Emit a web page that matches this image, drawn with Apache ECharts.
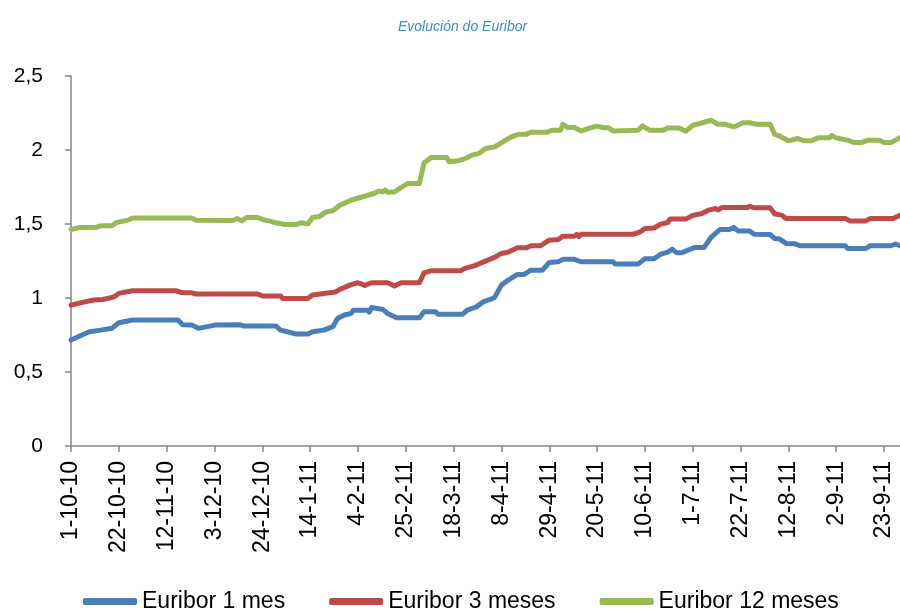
<!DOCTYPE html>
<html>
<head>
<meta charset="utf-8">
<script src="https://cdn.jsdelivr.net/npm/echarts@6/dist/echarts.min.js"></script>
<style>html,body{margin:0;padding:0;background:#fff}#c{width:900px;height:612px}</style>
</head>
<body>
<div id="c"></div>
<script>
// days counted from 1-10-10
const tickLabels = ['1-10-10','22-10-10','12-11-10','3-12-10','24-12-10','14-1-11','4-2-11','25-2-11','18-3-11','8-4-11','29-4-11','20-5-11','10-6-11','1-7-11','22-7-11','12-8-11','2-9-11','23-9-11'];
const tickStepDays = 21;
const lastDay = 364;
const seriesNames = ['Euribor 1 mes','Euribor 3 meses','Euribor 12 meses'];

const euribor1mes = [[0,0.716],[8,0.772],[13,0.783],[18,0.795],[21,0.833],[27,0.851],[47,0.851],[49,0.82],[53,0.817],[56,0.795],[61,0.81],[63,0.817],[74,0.82],[76,0.81],[90,0.81],[92,0.783],[95,0.772],[99,0.756],[104,0.756],[106,0.772],[111,0.783],[115,0.806],[117,0.862],[120,0.885],[123,0.896],[124,0.918],[130,0.918],[131,0.905],[132,0.936],[137,0.922],[139,0.896],[143,0.866],[153,0.866],[155,0.907],[160,0.907],[161,0.891],[172,0.891],[174,0.918],[178,0.94],[181,0.974],[184,0.99],[186,1.004],[189,1.087],[192,1.121],[196,1.159],[199,1.159],[202,1.188],[207,1.188],[210,1.24],[214,1.245],[216,1.261],[221,1.261],[224,1.245],[238,1.245],[239,1.229],[249,1.229],[252,1.265],[256,1.265],[259,1.296],[262,1.31],[264,1.33],[266,1.305],[268,1.305],[271,1.323],[274,1.342],[278,1.342],[281,1.409],[285,1.463],[289,1.463],[291,1.477],[293,1.452],[298,1.452],[300,1.431],[307,1.429],[309,1.402],[311,1.4],[314,1.369],[318,1.366],[320,1.353],[340,1.353],[341,1.335],[349,1.335],[351,1.353],[360,1.353],[362,1.365],[364,1.353]];

const euribor3meses = [[0,0.952],[6,0.974],[10,0.986],[14,0.99],[19,1.008],[21,1.031],[27,1.049],[46,1.049],[49,1.035],[53,1.035],[55,1.027],[82,1.027],[84,1.013],[92,1.013],[93,0.997],[104,0.997],[106,1.02],[116,1.04],[118,1.058],[123,1.09],[126,1.103],[129,1.085],[132,1.103],[139,1.103],[142,1.082],[145,1.103],[153,1.103],[155,1.17],[158,1.184],[171,1.184],[173,1.2],[177,1.217],[183,1.256],[186,1.274],[189,1.301],[192,1.31],[196,1.339],[200,1.339],[202,1.353],[206,1.353],[210,1.391],[214,1.395],[216,1.418],[221,1.418],[222,1.43],[223,1.415],[224,1.431],[247,1.431],[250,1.447],[252,1.47],[256,1.473],[259,1.499],[262,1.51],[263,1.533],[270,1.533],[273,1.558],[277,1.571],[280,1.594],[283,1.605],[284,1.595],[286,1.612],[297,1.612],[298,1.62],[300,1.609],[307,1.609],[309,1.567],[312,1.56],[314,1.537],[340,1.537],[342,1.521],[349,1.521],[351,1.537],[361,1.537],[364,1.56]];

const euribor12meses = [[0,1.463],[4,1.477],[11,1.477],[13,1.488],[18,1.488],[20,1.51],[25,1.526],[27,1.54],[53,1.54],[55,1.526],[71,1.524],[73,1.537],[75,1.521],[77,1.544],[82,1.544],[85,1.526],[87,1.521],[90,1.508],[94,1.497],[99,1.497],[101,1.508],[104,1.5],[106,1.544],[109,1.55],[112,1.582],[115,1.59],[118,1.627],[123,1.661],[127,1.679],[133,1.706],[135,1.722],[137,1.718],[138,1.73],[139,1.714],[142,1.716],[145,1.747],[148,1.774],[153,1.774],[155,1.913],[157,1.936],[158,1.949],[165,1.949],[166,1.92],[169,1.925],[172,1.936],[174,1.949],[176,1.965],[179,1.976],[182,2.01],[186,2.021],[190,2.059],[194,2.093],[197,2.107],[200,2.107],[202,2.12],[209,2.12],[211,2.134],[215,2.134],[216,2.174],[218,2.152],[221,2.152],[224,2.129],[227,2.145],[231,2.161],[234,2.15],[236,2.15],[238,2.129],[249,2.134],[251,2.163],[254,2.134],[260,2.134],[262,2.149],[267,2.149],[270,2.127],[273,2.167],[276,2.179],[281,2.201],[284,2.174],[287,2.174],[291,2.156],[295,2.184],[298,2.184],[301,2.174],[307,2.174],[309,2.105],[311,2.095],[315,2.062],[319,2.078],[322,2.062],[325,2.062],[328,2.082],[333,2.082],[334,2.098],[336,2.082],[341,2.066],[344,2.05],[347,2.05],[350,2.066],[355,2.066],[357,2.05],[360,2.05],[364,2.084]];

const colors = ['#4A7EBB','#BE4B48','#98B954'];
const FONT = 'Liberation Sans';
const tickValues = tickLabels.map((_, i) => i * tickStepDays);

const chart = echarts.init(document.getElementById('c'), null, {renderer: 'canvas'});
const mk = (name, data, color) => ({
  name, type: 'line', data, showSymbol: false, symbol: 'none', smooth: false,
  color, lineStyle: {width: 5, color, cap: 'round', join: 'round'}, animation: false
});
chart.setOption({
  animation: false,
  backgroundColor: '#ffffff',
  title: {
    text: 'Evolución do Euribor', left: 398, top: 20, padding: 0,
    textStyle: {fontFamily: FONT, fontSize: 14, fontStyle: 'italic', fontWeight: 'normal', color: '#3A8DD4'}
  },
  legend: {
    left: 83, top: 590, padding: 0, itemWidth: 54, itemHeight: 7, itemGap: 44, icon: 'roundRect',
    textStyle: {fontFamily: FONT, fontSize: 23, color: '#000'},
    data: seriesNames
  },
  grid: {left: 71, right: 0, top: 76, bottom: 166, containLabel: false},
  xAxis: {
    type: 'value', min: 0, max: lastDay, interval: tickStepDays,
    axisLine: {lineStyle: {color: '#868686', width: 1.5}},
    axisTick: {show: true, inside: false, length: 6, lineStyle: {color: '#868686', width: 1.5}, customValues: tickValues},
    splitLine: {show: false},
    axisLabel: {
      customValues: tickValues, rotate: 90, margin: 15,
      fontFamily: FONT, fontSize: 23, color: '#000',
      formatter: v => tickLabels[Math.round(v / tickStepDays)] || ''
    }
  },
  yAxis: {
    type: 'value', min: 0, max: 2.5, interval: 0.5,
    axisLine: {show: true, lineStyle: {color: '#868686', width: 1.5}},
    axisTick: {show: true, inside: false, length: 6, lineStyle: {color: '#868686', width: 1.5}},
    splitLine: {show: false},
    axisLabel: {
      margin: 28, fontFamily: FONT, fontSize: 21, color: '#000',
      formatter: v => String(v).replace('.', ',')
    }
  },
  series: [
    mk(seriesNames[0], euribor1mes, colors[0]),
    mk(seriesNames[1], euribor3meses, colors[1]),
    mk(seriesNames[2], euribor12meses, colors[2])
  ]
});
</script>
</body>
</html>
